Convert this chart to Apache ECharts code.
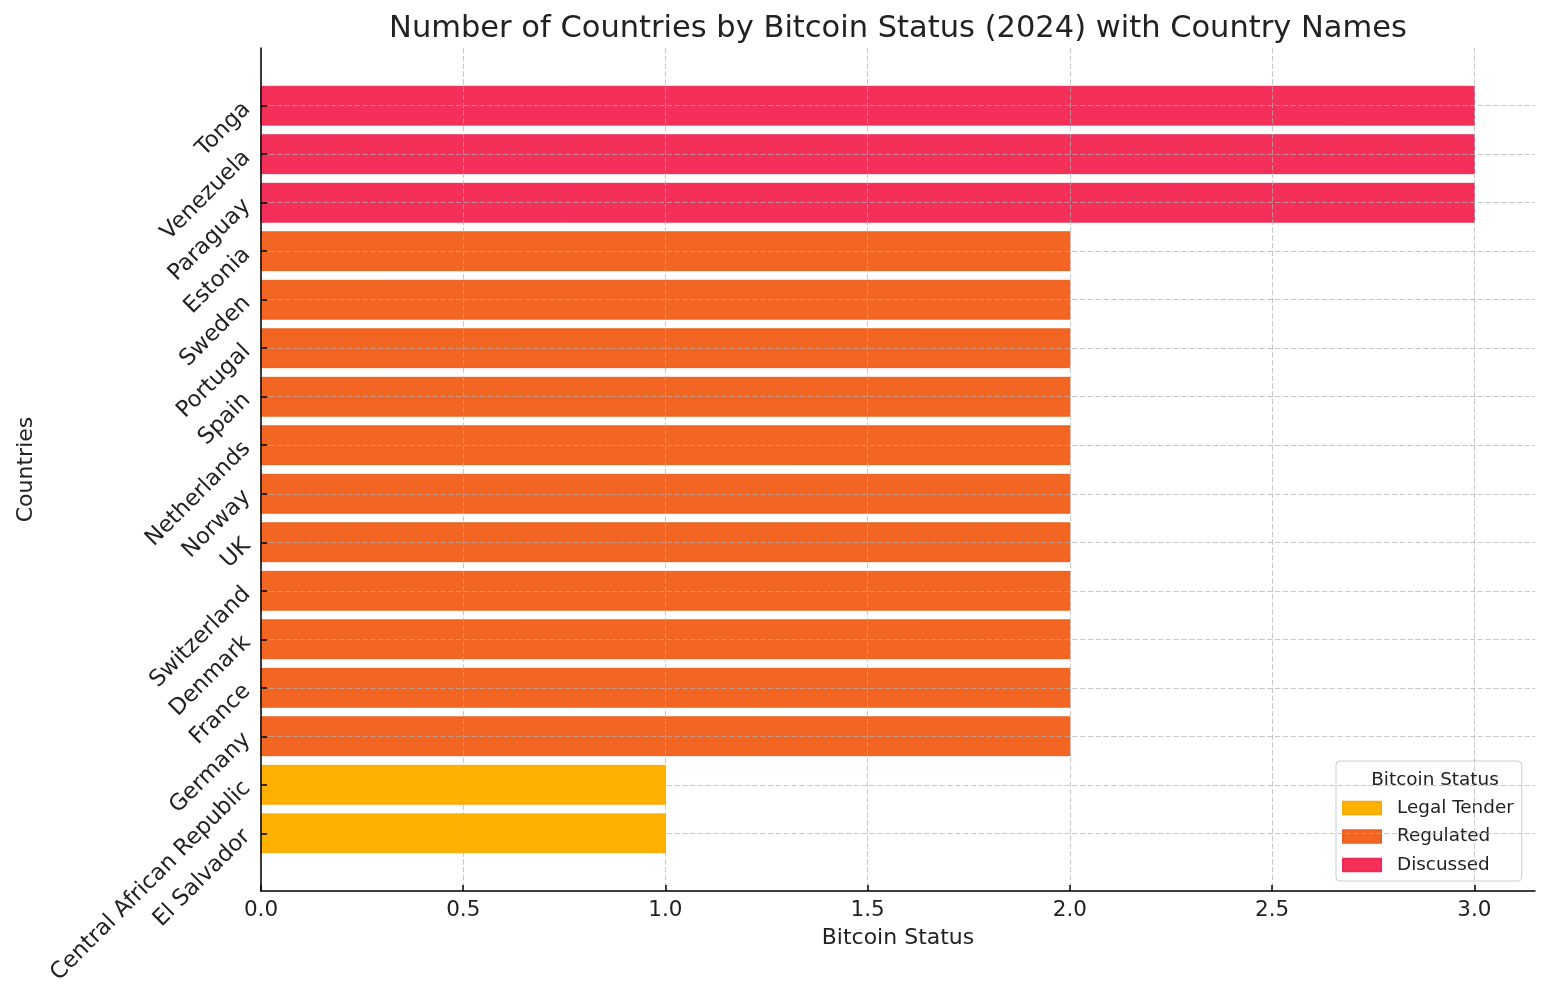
<!DOCTYPE html>
<html>
<head>
<meta charset="utf-8">
<script src="https://cdn.jsdelivr.net/npm/echarts@6/dist/echarts.min.js"></script>
<style>html,body{margin:0;padding:0;background:#fff}#chart{width:1548px;height:1000px}</style>
</head>
<body>
<div id="chart"></div>
<script>
// Countries listed bottom to top (index 0 = bottom row)
const countries = ['El Salvador', 'Central African Republic', 'Germany', 'France', 'Denmark',
  'Switzerland', 'UK', 'Norway', 'Netherlands', 'Spain', 'Portugal', 'Sweden', 'Estonia',
  'Paraguay', 'Venezuela', 'Tonga'];
// Bitcoin status code per country (1 = Legal Tender, 2 = Regulated, 3 = Discussed)
const statusValues = [1, 1, 2, 2, 2, 2, 2, 2, 2, 2, 2, 2, 2, 3, 3, 3];
const statusNames = ['Legal Tender', 'Regulated', 'Discussed'];
const statusColors = ['#FFB000', '#F26522', '#F4305A'];
const statusEdges = ['#F7AA08', '#EA601F', '#EC2B55'];
const xTicks = [0, 0.5, 1, 1.5, 2, 2.5, 3];

const FONT = 'DejaVu Sans';
const TXT = '#222222';

const yTicks = countries.map((c, i) => i);

function renderBar(params, api) {
  const v = api.value(0), idx = api.value(1);
  const s = api.coord([0, idx]);
  const e = api.coord([v, idx]);
  const h = api.size([0, 0.8])[1];
  return {
    type: 'rect',
    shape: { x: s[0], y: s[1] - h / 2, width: e[0] - s[0], height: h },
    style: api.style()
  };
}

const series = statusNames.map((name, k) => ({
  name: name,
  type: 'custom',
  renderItem: renderBar,
  encode: { x: 0, y: 1 },
  itemStyle: { color: statusColors[k], borderColor: statusEdges[k], borderWidth: 1 },
  z: 1,
  data: countries.map((c, i) => [statusValues[i], i]).filter(d => d[0] === k + 1)
}));

const chart = echarts.init(document.getElementById('chart'), null, { renderer: 'canvas' });
chart.setOption({
  animation: false,
  backgroundColor: '#ffffff',
  title: [{
    text: 'Number of Countries by Bitcoin Status (2024) with Country Names',
    left: 893, top: 9, textAlign: 'center',
    textStyle: { fontFamily: FONT, fontSize: 30.5, fontWeight: 'normal', color: TXT }
  }, {
    text: 'Bitcoin Status',
    left: 1430, top: 766, textAlign: 'center', z: 10,
    textStyle: { fontFamily: FONT, fontSize: 18.4, fontWeight: 'normal', color: TXT }
  }],
  legend: {
    orient: 'vertical',
    left: 1336, top: 761,
    padding: [38, 8, 7, 6],
    itemGap: 10.5,
    itemWidth: 38, itemHeight: 12.5,
    icon: 'rect',
    backgroundColor: 'rgba(255,255,255,0.8)',
    borderColor: '#cccccc', borderWidth: 1, borderRadius: 4,
    textStyle: { fontFamily: FONT, fontSize: 18.4, color: TXT, padding: [0, 0, 0, 11] },
    data: statusNames
  },
  grid: { left: 261, right: 13, top: 48, bottom: 109, containLabel: false, outerBoundsMode: 'none' },
  xAxis: {
    type: 'value', min: 0, max: 3.15, z: 5,
    name: 'Bitcoin Status', nameLocation: 'middle', nameGap: 36, nameMoveOverlap: false,
    nameTextStyle: { fontFamily: FONT, fontSize: 22, color: TXT },
    axisLine: { show: true, onZero: false, lineStyle: { color: '#000', width: 1.5 } },
    axisTick: { show: true, inside: true, length: 6, customValues: xTicks, lineStyle: { color: '#000', width: 1.5 } },
    axisLabel: { customValues: xTicks, margin: 8, fontFamily: FONT, fontSize: 21.5, color: TXT,
      formatter: v => Number(v).toFixed(1) },
    splitLine: { show: true, lineStyle: { color: 'rgba(176,176,176,0.7)', width: 1, type: [5.4, 2.4] } }
  },
  yAxis: {
    type: 'value', min: -1.19, max: 16.19, z: 5,
    name: 'Countries', nameLocation: 'middle', nameGap: 224, nameRotate: 90, nameMoveOverlap: false,
    nameTextStyle: { fontFamily: FONT, fontSize: 22, color: TXT },
    axisLine: { show: true, onZero: false, lineStyle: { color: '#000', width: 1.5 } },
    axisTick: { show: true, inside: true, length: 6, customValues: yTicks, lineStyle: { color: '#000', width: 1.5 } },
    axisLabel: { customValues: yTicks, rotate: 45, margin: 14, fontFamily: FONT, fontSize: 22.6, color: TXT,
      formatter: v => countries[Math.round(v)] },
    splitLine: { show: true, lineStyle: { color: 'rgba(176,176,176,0.7)', width: 1, type: [5.4, 2.4] } }
  },
  series: series
});
</script>
</body>
</html>
